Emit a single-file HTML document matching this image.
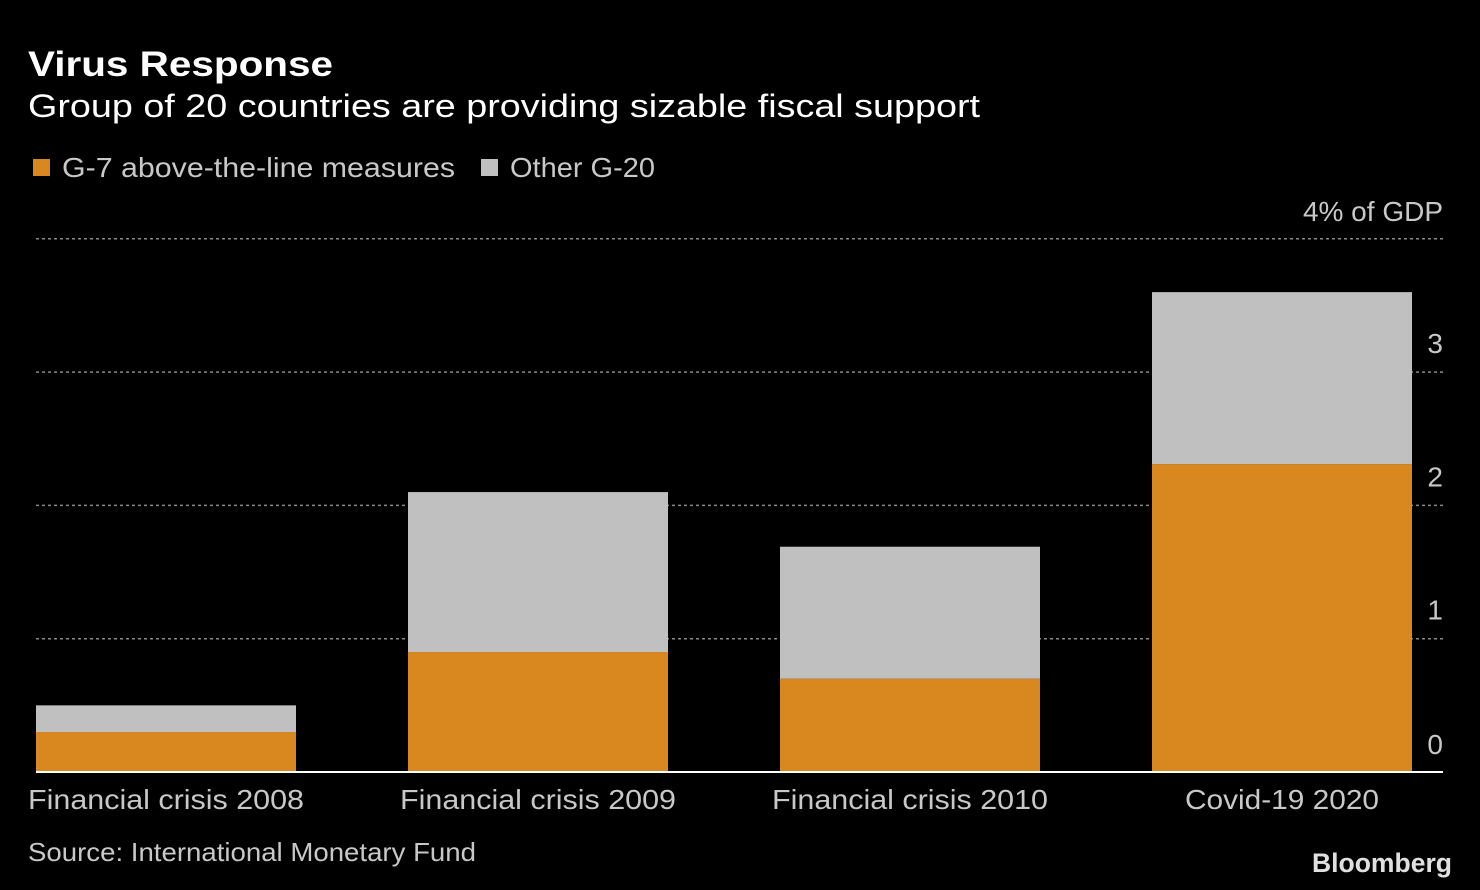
<!DOCTYPE html>
<html><head><meta charset="utf-8"><style>
html,body{margin:0;padding:0;background:#000;}
svg{display:block;font-family:"Liberation Sans",sans-serif;}
</style></head><body>
<svg id="chart" width="1480" height="890" viewBox="0 0 1480 890">
<rect x="0" y="0" width="1480" height="890" fill="#000"/>
<text x="28" y="76" fill="#fff" font-size="35" font-weight="bold" textLength="305" lengthAdjust="spacingAndGlyphs">Virus Response</text>
<text x="28" y="117" fill="#fff" font-size="32" textLength="952" lengthAdjust="spacingAndGlyphs">Group of 20 countries are providing sizable fiscal support</text>
<g>
<rect x="33" y="159" width="17" height="17" fill="#d9871f"/>
<text x="62" y="177" fill="#c8c8c8" font-size="28" textLength="393" lengthAdjust="spacingAndGlyphs">G-7 above-the-line measures</text>
<rect x="481" y="159" width="17" height="17" fill="#c0c0c0"/>
<text x="510" y="177" fill="#c8c8c8" font-size="28" textLength="145" lengthAdjust="spacingAndGlyphs">Other G-20</text>
</g>
<g id="grid"></g>
<g id="bars"></g>
<g id="xlabels"></g>
<text x="28" y="861" fill="#c8c8c8" font-size="26" textLength="448" lengthAdjust="spacingAndGlyphs">Source: International Monetary Fund</text>
<text x="1452" y="872" fill="#e0e0e0" font-size="27" font-weight="bold" text-anchor="end" textLength="140" lengthAdjust="spacingAndGlyphs">Bloomberg</text>
</svg>
<script>
const categories = ["Financial crisis 2008","Financial crisis 2009","Financial crisis 2010","Covid-19 2020"];
const g7Values = [0.30, 0.90, 0.70, 2.31];
const otherValues = [0.20, 1.20, 0.99, 1.29];
const yTicks = [0,1,2,3,4];
const yTickLabels = ["0","1","2","3","4% of GDP"];

const NS="http://www.w3.org/2000/svg";
const y0=772, unit=133.3;
function yScale(v){return y0 - v*unit;}
const barLeft=36, barW=260, barStep=372;
function xScale(i){return barLeft + i*barStep;}
function mk(tag,attrs,parent){const e=document.createElementNS(NS,tag);for(const k in attrs)e.setAttribute(k,attrs[k]);parent.appendChild(e);return e;}

const grid=document.getElementById('grid');
yTicks.forEach((t,i)=>{
  const y=yScale(t);
  if(t>0){
    const l=mk('line',{x1:36,x2:1443,y1:y,y2:y,stroke:'#888','stroke-width':1.5,'stroke-dasharray':'3,3'},grid);
    
    
  }
  const tx=mk('text',{x:1443,y:y-19,fill:'#c8c8c8','font-size':28,'text-anchor':'end'},grid);
  if(t===0||t===4) tx.setAttribute('y', y-18);
  tx.textContent=yTickLabels[i];
  
  
});

const bars=document.getElementById('bars');
const xl=document.getElementById('xlabels');
categories.forEach((c,i)=>{
  const x=xScale(i);
  const g=g7Values[i], o=otherValues[i];
  const r1=mk('rect',{x:x,y:yScale(g),width:barW,height:yScale(0)-yScale(g),fill:'#d9871f'},bars);
  
  
  const r2=mk('rect',{x:x,y:yScale(g+o),width:barW,height:yScale(g)-yScale(g+o),fill:'#c0c0c0'},bars);
  
  
  const tl = c.startsWith('Covid') ? 194 : 276;
  const t=mk('text',{x:x+barW/2,y:809,fill:'#c8c8c8','font-size':28,'text-anchor':'middle',textLength:tl,lengthAdjust:'spacingAndGlyphs'},xl);
  t.textContent=c;
  
  
});
const base=mk('line',{x1:36,x2:1443,y1:y0,y2:y0,stroke:'#fff','stroke-width':2},bars);


</script>
</body></html>
